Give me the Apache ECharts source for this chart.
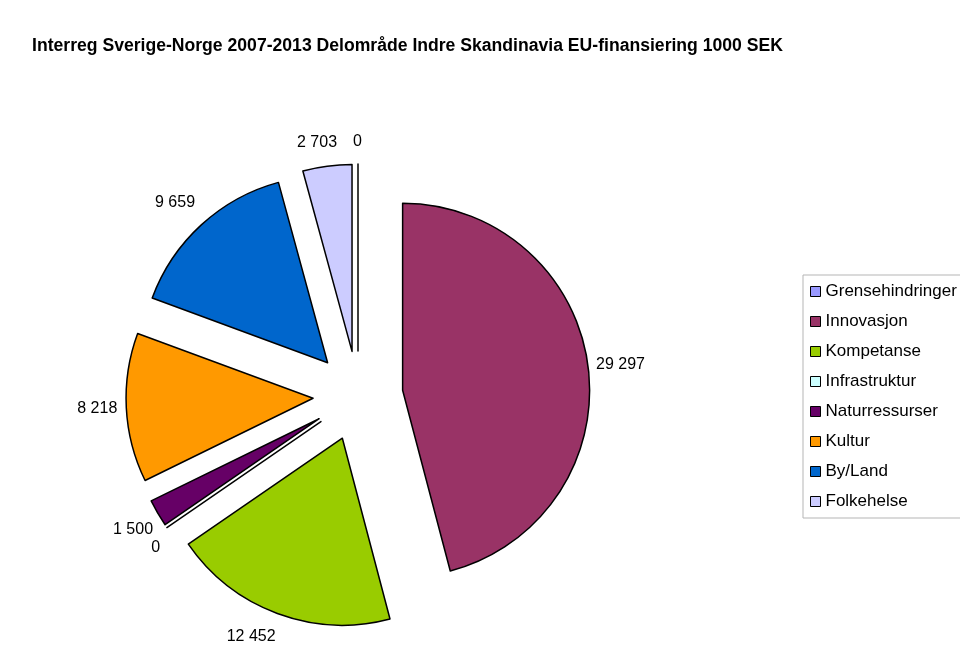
<!DOCTYPE html>
<html>
<head>
<meta charset="utf-8">
<script src="https://cdn.jsdelivr.net/npm/echarts@6/dist/echarts.min.js"></script>
<style>html,body{margin:0;padding:0;background:#fff}#c{width:960px;height:646px}</style>
</head>
<body>
<div id="c"></div>
<script>
const titleText = 'Interreg Sverige-Norge 2007-2013 Delområde Indre Skandinavia EU-finansiering 1000 SEK';
const categories = ['Grensehindringer','Innovasjon','Kompetanse','Infrastruktur','Naturressurser','Kultur','By/Land','Folkehelse'];
const values = [0, 29297, 12452, 0, 1500, 8218, 9659, 2703];
const colors = ['#9999FF','#993366','#99CC00','#CCFFFF','#660066','#FF9900','#0066CC','#CCCCFF'];
// label placement tuning (label line lengths, the line itself hidden)
const labelLen = [22, 10, 25, 35, 32, 10, 30, 24];
const labelLen2 = [-4, -2, -7, -22, -23, -1, -14, -13];

const fmt = v => String(v).replace(/\B(?=(\d{3})+(?!\d))/g, ' ');

const chart = echarts.init(document.getElementById('c'), null, {renderer: 'canvas'});
chart.setOption({
  animation: false,
  title: {
    text: titleText, left: 32, top: 37, padding: 0,
    textStyle: {fontFamily: 'Liberation Sans', fontWeight: 'bold', fontSize: 17.6, color: '#000'}
  },
  legend: {
    orient: 'vertical', left: 803, top: 275,
    padding: [8, 10, 8, 7], itemGap: 13, itemWidth: 10, itemHeight: 10,
    borderColor: '#b5b5b5', borderWidth: 1,
    icon: 'rect',
    itemStyle: {borderColor: '#000', borderWidth: 1},
    textStyle: {fontFamily: 'Liberation Sans', fontSize: 17, color: '#000'},
    data: categories,
    selectedMode: false
  },
  series: [{
    type: 'pie',
    center: [358, 396],
    radius: 187,
    startAngle: 90,
    clockwise: true,
    selectedMode: 'multiple',
    selectedOffset: 45,
    avoidLabelOverlap: false,
    minAngle: 0,
    labelLayout: {hideOverlap: false},
    itemStyle: {borderColor: '#000', borderWidth: 1.5},
    emphasis: {disabled: true},
    label: {
      show: true, position: 'outside', distanceToLabelLine: 0,
      fontFamily: 'Liberation Sans', fontSize: 16, color: '#000',
      formatter: p => fmt(p.value)
    },
    labelLine: {show: false},
    data: categories.map((n, i) => ({
      name: n, value: values[i], selected: true,
      itemStyle: {color: colors[i]},
      labelLine: {show: false, length: labelLen[i], length2: labelLen2[i]}
    }))
  }]
});
</script>
</body>
</html>
